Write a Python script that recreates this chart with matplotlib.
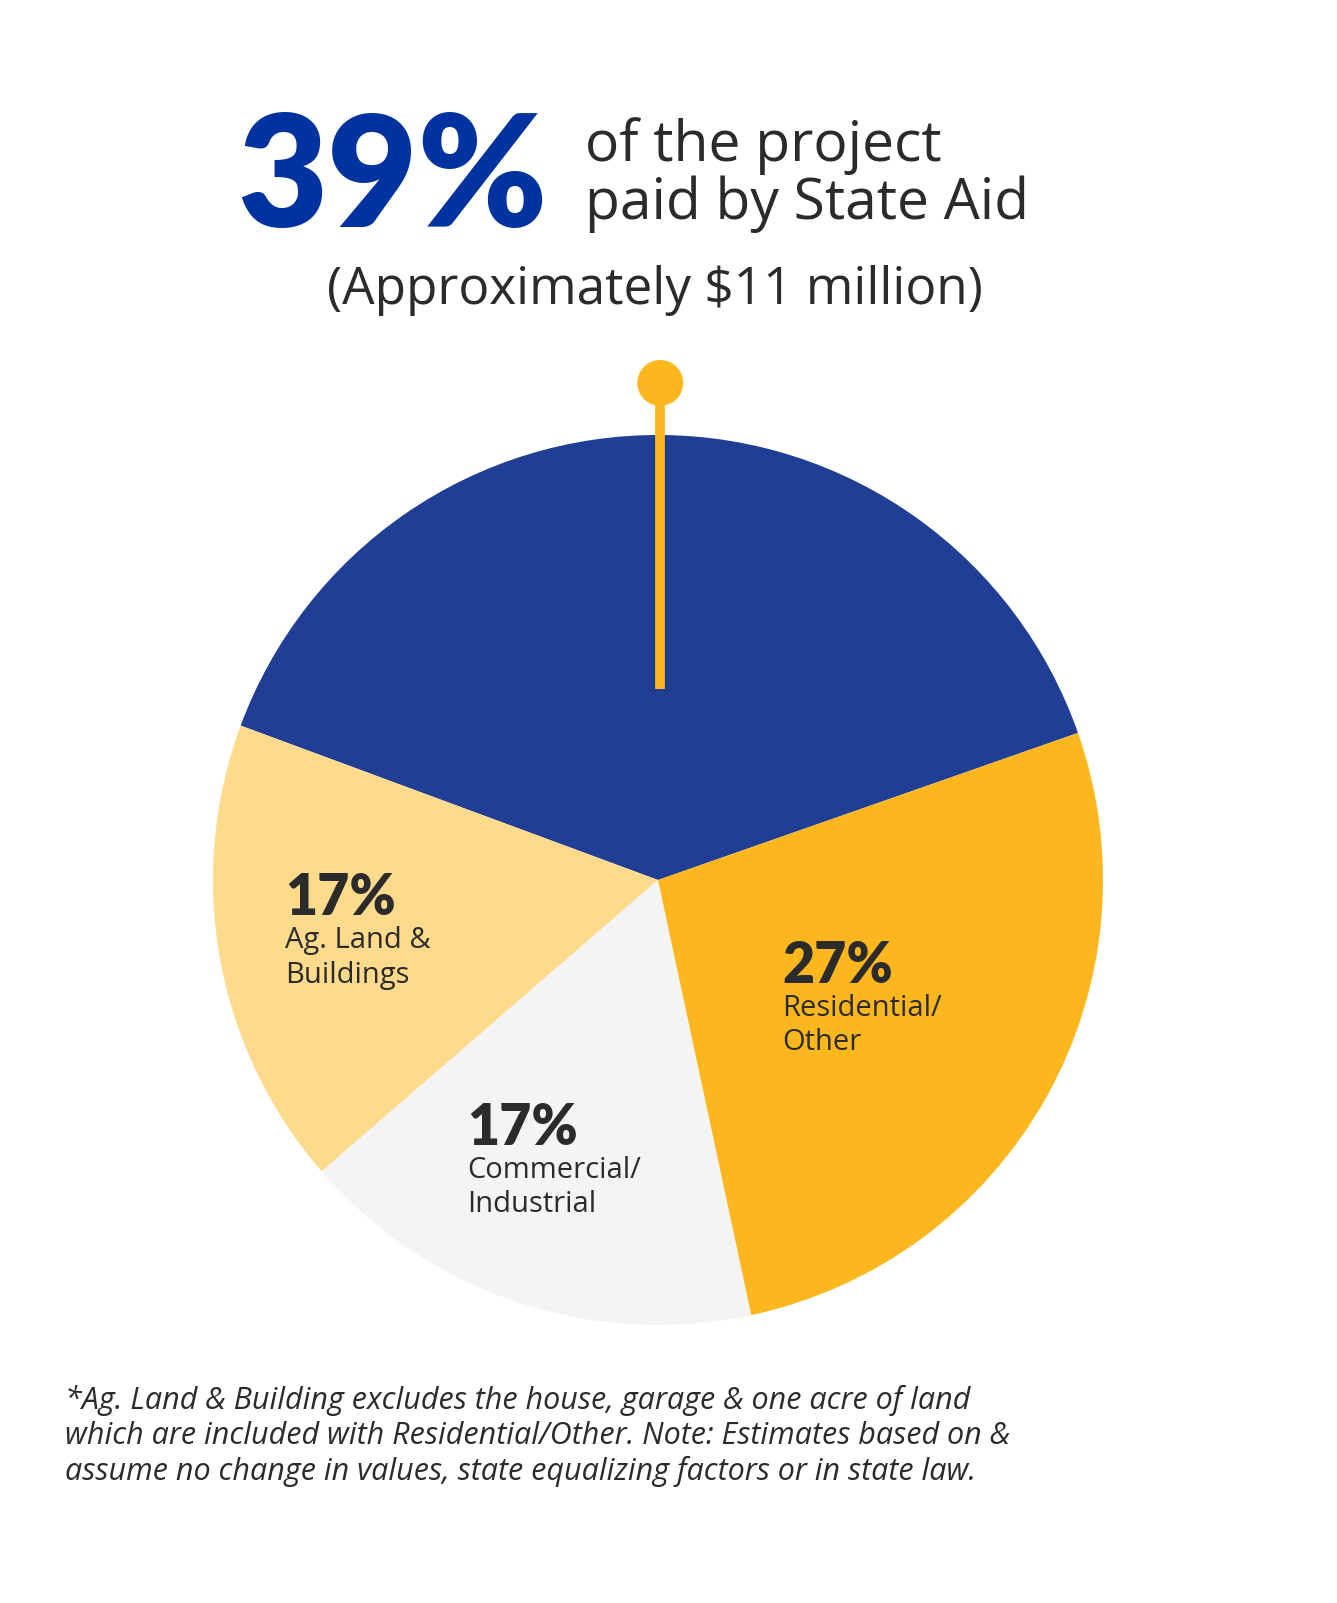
import matplotlib.pyplot as plt
from matplotlib.patches import Circle

shares = [39, 17, 17, 27]
colors = ['#213E95', '#FDDA8C', '#F4F4F4', '#FDB71E']
pcts = ['17%', '17%', '27%']
names = ['Ag. Land &\nBuildings', 'Commercial/\nIndustrial', 'Residential/\nOther']
label_pos = [(285, 898), (467, 1128), (782, 966)]  # px, top-left

W, H = 1337, 1603
fig = plt.figure(figsize=(W / 100, H / 100), dpi=100)
fig.patch.set_facecolor('white')
plt.rcParams['font.family'] = ['Open Sans', 'DejaVu Sans']

# pie: centre (658, 880), radius 445 px
ax = fig.add_axes([213 / W, (H - 1325) / H, 890 / W, 890 / H])
ax.pie(shares, colors=colors, startangle=19.3, counterclock=True,
       wedgeprops=dict(linewidth=0))
ax.set_xlim(-1, 1)
ax.set_ylim(-1, 1)
ax.set_aspect('equal')
ax.axis('off')

# pin
ax.plot([0.005, 0.005], [0.43, 1.1], color='#FDB71E', lw=7, solid_capstyle='butt', clip_on=False)
ax.add_patch(Circle((0.005, 1.117), 0.05, color='#FDB71E', clip_on=False))


def fy(y):
    return 1 - y / H


fig.text(548 / W, fy(182), '39%', color='#0033A0', fontsize=112, fontweight='heavy',
         family=['Lato', 'DejaVu Sans'], ha='right', va='center')
fig.text(585 / W, fy(175), 'of the project\npaid by State Aid', color='#2b2b2b',
         fontsize=41, ha='left', va='center', linespacing=1.0)
fig.text(655 / W, fy(290), '(Approximately $11 million)', color='#2b2b2b',
         fontsize=37, ha='center', va='center')

for (x, y), p, n in zip(label_pos, pcts, names):
    fig.text(x / W, fy(y), p, color='#2b2b2b', fontsize=40, fontweight='heavy',
             family=['Lato', 'DejaVu Sans'], ha='left', va='center')
    fig.text(x / W, fy(y + 28), n, color='#2b2b2b', fontsize=21, ha='left', va='top',
             linespacing=1.25)

foot = ('*Ag. Land & Building excludes the house, garage & one acre of land\n'
        'which are included with Residential/Other. Note: Estimates based on &\n'
        'assume no change in values, state equalizing factors or in state law.')
fig.text(65 / W, fy(1385), foot, color='#2b2b2b', fontsize=22, style='italic',
         ha='left', va='top', linespacing=1.2)

fig.savefig('out.png', dpi=100, facecolor='white')
